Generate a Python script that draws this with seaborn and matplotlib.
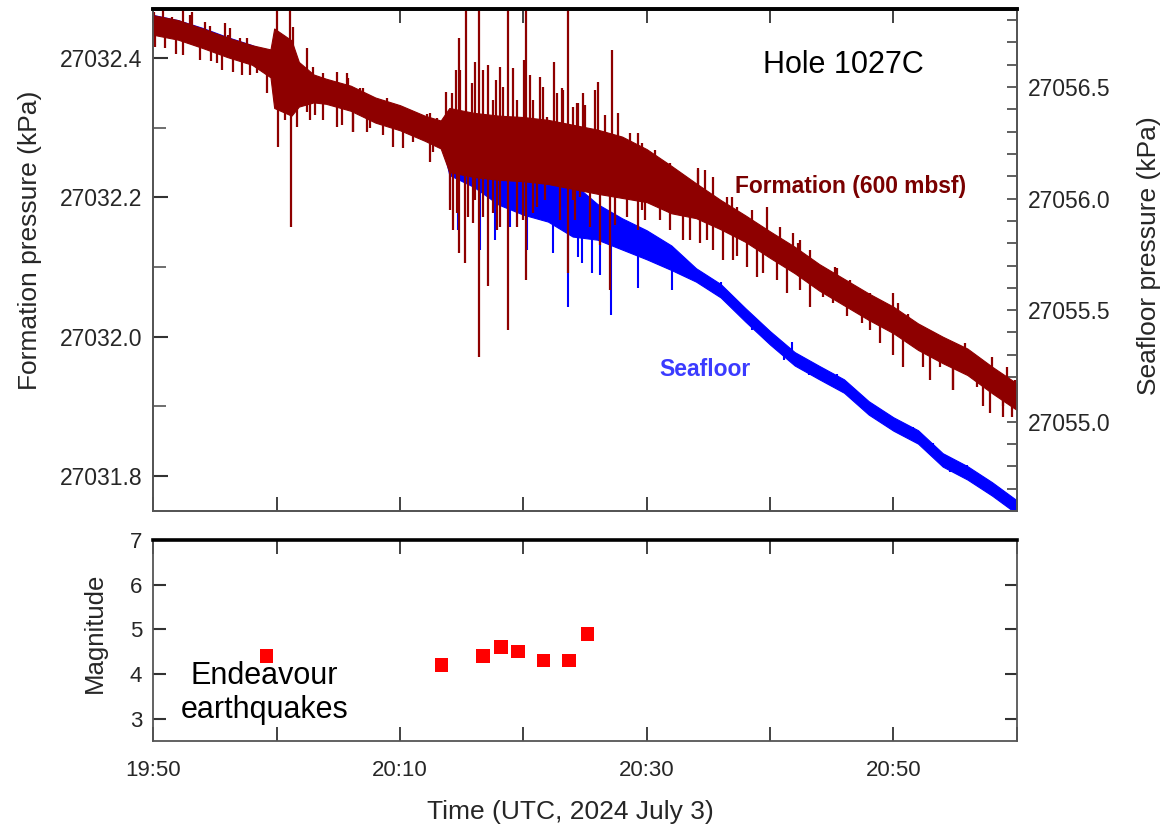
import numpy as np
import matplotlib
matplotlib.use("Agg")
import matplotlib.pyplot as plt
import seaborn as sns
from matplotlib.ticker import MultipleLocator

# ---------------- data ----------------
# reading times, minutes after 19:50 UTC
t_grid = [0, 2, 4, 6, 8, 9.5, 9.8, 11.2, 11.8, 13, 14, 16, 18, 20, 22, 23.3,
          24, 26, 28, 30, 32, 34, 36, 38, 40, 42, 44, 46, 48, 50, 52, 54, 56,
          58, 60, 62, 64, 66, 68, 70]

# formation pressure (kPa): dense core of the record
form_upper = [27032.461, 27032.454, 27032.442, 27032.429, 27032.418, 27032.412,
              27032.442, 27032.425, 27032.394, 27032.376, 27032.370, 27032.360,
              27032.343, 27032.332, 27032.317, 27032.310, 27032.328, 27032.321,
              27032.317, 27032.315, 27032.311, 27032.304, 27032.297, 27032.287,
              27032.269, 27032.245, 27032.220, 27032.196, 27032.174, 27032.151,
              27032.129, 27032.104, 27032.083, 27032.062, 27032.043, 27032.019,
              27032.000, 27031.983, 27031.957, 27031.933]
form_lower = [27032.433, 27032.426, 27032.414, 27032.401, 27032.390, 27032.372,
              27032.328, 27032.317, 27032.330, 27032.336, 27032.334, 27032.324,
              27032.307, 27032.296, 27032.281, 27032.270, 27032.236, 27032.229,
              27032.225, 27032.223, 27032.219, 27032.212, 27032.205, 27032.199,
              27032.193, 27032.177, 27032.170, 27032.154, 27032.136, 27032.113,
              27032.091, 27032.066, 27032.045, 27032.024, 27032.005, 27031.981,
              27031.962, 27031.945, 27031.919, 27031.895]

# seafloor pressure (kPa): dense core of the record
sea_upper = [27056.823, 27056.800, 27056.765, 27056.724, 27056.688, 27056.652,
             27056.640, 27056.590, 27056.558, 27056.540, 27056.527, 27056.495,
             27056.442, 27056.406, 27056.361, 27056.334, 27056.286, 27056.252,
             27056.213, 27056.168, 27056.137, 27056.070, 27055.976, 27055.912,
             27055.858, 27055.790, 27055.688, 27055.617, 27055.509, 27055.406,
             27055.312, 27055.250, 27055.190, 27055.092, 27055.020, 27054.962,
             27054.859, 27054.801, 27054.729, 27054.648]
sea_lower = [27056.763, 27056.740, 27056.705, 27056.664, 27056.628, 27056.592,
             27056.580, 27056.530, 27056.498, 27056.480, 27056.467, 27056.435,
             27056.382, 27056.346, 27056.301, 27056.274, 27056.106, 27056.052,
             27055.973, 27055.928, 27055.897, 27055.830, 27055.816, 27055.772,
             27055.728, 27055.680, 27055.628, 27055.557, 27055.449, 27055.346,
             27055.252, 27055.190, 27055.130, 27055.032, 27054.960, 27054.902,
             27054.799, 27054.741, 27054.669, 27054.588]

# spikes of the formation record reaching above the core (time, tip)
form_up_t = [0.05, 0.79, 1.49, 2.41, 2.98, 3.14, 4.19, 4.6, 5.82, 6.08, 6.22,
             7.03, 7.6, 8.65, 10.03, 11.08, 11.33, 12.44, 12.97, 13.78, 14.9,
             15.68, 15.78, 16.76, 17.03, 18.11, 18.92, 19.76, 20.68, 22.17,
             22.43, 22.98, 23.73, 24.2, 24.54, 24.79, 24.87, 25.36, 25.82,
             26.08, 26.41, 26.76, 27.14, 27.57, 27.79, 28.11, 28.38, 28.76,
             29.17, 29.46, 30.06, 30.22, 30.54, 30.81, 31.35, 31.6, 31.9,
             32.49, 32.71, 33.14, 33.24, 33.63, 34.05, 34.36, 34.46, 34.85,
             35.0, 35.8, 36.06, 36.6, 37.2, 37.69, 38.65, 39.3, 39.6, 40.68,
             41.63, 41.9, 42.44, 43.11, 44.16, 44.19, 44.73, 45.38, 46.49,
             46.9, 47.3, 48.52, 49.76, 50.81, 51.89, 52.3, 52.43, 53.25, 54.33,
             55.27, 55.41, 56.49, 58.11, 59.97, 60.41, 61.19, 61.22, 62.43,
             63.24, 64.33, 65.81, 66.38, 66.89, 67.98, 69.2, 69.4, 69.9]
form_up_v = [27032.465, 27032.47, 27032.458, 27032.468, 27032.461, 27032.465,
             27032.451, 27032.445, 27032.450, 27032.432, 27032.443, 27032.428,
             27032.428, 27032.408, 27032.47, 27032.47, 27032.444, 27032.414,
             27032.387, 27032.378, 27032.380, 27032.378, 27032.371, 27032.357,
             27032.356, 27032.339, 27032.342, 27032.329, 27032.322, 27032.320,
             27032.321, 27032.313, 27032.351, 27032.349, 27032.382, 27032.428,
             27032.382, 27032.47, 27032.364, 27032.394, 27032.47, 27032.382,
             27032.390, 27032.339, 27032.368, 27032.387, 27032.358, 27032.47,
             27032.385, 27032.339, 27032.397, 27032.47, 27032.375, 27032.339,
             27032.372, 27032.358, 27032.315, 27032.394, 27032.349, 27032.357,
             27032.354, 27032.47, 27032.329, 27032.335, 27032.335, 27032.349,
             27032.332, 27032.354, 27032.365, 27032.318, 27032.411, 27032.321,
             27032.292, 27032.292, 27032.278, 27032.268, 27032.249, 27032.249,
             27032.236, 27032.225, 27032.239, 27032.242, 27032.239, 27032.229,
             27032.200, 27032.200, 27032.186, 27032.182, 27032.186, 27032.158,
             27032.149, 27032.135, 27032.139, 27032.125, 27032.100, 27032.100,
             27032.099, 27032.082, 27032.063, 27032.063, 27032.049, 27032.029,
             27032.032, 27032.014, 27032.006, 27031.986, 27031.991, 27031.977,
             27031.967, 27031.971, 27031.957, 27031.938, 27031.938]

# spikes of the formation record reaching below the core (time, tip)
form_dn_t = [0.14, 0.95, 1.8, 2.41, 3.79, 4.7, 5.14, 5.57, 6.46, 7.17, 7.84,
             8.38, 9.22, 10.11, 10.68, 11.16, 11.65, 12.5, 12.7, 13.11, 13.76,
             14.89, 15.3, 16.19, 16.22, 17.32, 17.57, 18.65, 19.43, 20.27,
             21.08, 22.43, 22.7, 24.06, 24.33, 24.6, 24.79, 25.27, 25.54,
             25.92, 26.08, 26.41, 26.76, 27.14, 27.57, 27.84, 28.11, 28.76,
             29.46, 30.0, 30.22, 30.81, 31.13, 31.76, 32.97, 32.99, 33.63,
             34.05, 34.2, 34.6, 35.41, 36.2, 37.03, 37.4, 38.38, 39.3, 39.6,
             39.86, 41.08, 41.9, 42.97, 43.51, 44.33, 44.89, 45.41, 46.22,
             47.0, 47.3, 48.11, 48.95, 49.46, 50.55, 51.36, 52.44, 53.25,
             54.33, 55.14, 56.26, 57.44, 58.11, 58.94, 60.0, 60.8, 62.43,
             62.98, 63.79, 64.84, 64.87, 66.76, 67.27, 67.84, 68.89, 68.92,
             69.6]
form_dn_v = [27032.415, 27032.414, 27032.405, 27032.404, 27032.397, 27032.395,
             27032.392, 27032.382, 27032.380, 27032.375, 27032.375, 27032.378,
             27032.349, 27032.272, 27032.311, 27032.157, 27032.301, 27032.322,
             27032.311, 27032.318, 27032.311, 27032.301, 27032.303, 27032.294,
             27032.293, 27032.294, 27032.299, 27032.289, 27032.272, 27032.270,
             27032.279, 27032.251, 27032.265, 27032.182, 27032.153, 27032.177,
             27032.120, 27032.106, 27032.172, 27032.163, 27032.196, 27031.971,
             27032.172, 27032.072, 27032.177, 27032.153, 27032.157, 27032.010,
             27032.157, 27032.167, 27032.082, 27032.177, 27032.186, 27032.196,
             27032.167, 27032.215, 27032.092, 27032.196, 27032.167, 27032.200,
             27032.157, 27032.132, 27032.067, 27032.160, 27032.172, 27032.153,
             27032.182, 27032.168, 27032.168, 27032.153, 27032.139, 27032.139,
             27032.135, 27032.139, 27032.125, 27032.110, 27032.110, 27032.115,
             27032.100, 27032.086, 27032.092, 27032.082, 27032.063, 27032.067,
             27032.043, 27032.057, 27032.049, 27032.029, 27032.020, 27032.010,
             27031.991, 27031.974, 27031.957, 27031.956, 27031.938, 27031.957,
             27031.924, 27031.924, 27031.928, 27031.900, 27031.891, 27031.885,
             27031.900, 27031.885]

# spikes of the seafloor record (time, tip)
sea_spike_t = [24.06, 24.7, 26.49, 27.71, 28.92, 30.3, 32.41, 33.63, 34.4,
               34.76, 35.6, 36.22, 37.11, 39.3, 42.06, 46.0, 48.5, 51.1, 51.76,
               53.2, 55.4, 61.62, 63.24, 64.6, 66.0, 67.6]
sea_spike_v = [27055.995, 27055.860, 27055.770, 27055.815, 27055.874, 27055.770,
               27055.757, 27055.515, 27055.739, 27055.712, 27055.667, 27055.659,
               27055.479, 27055.600, 27055.591, 27055.627, 27055.413, 27055.277,
               27055.358, 27055.210, 27055.213, 27054.977, 27054.905, 27054.774,
               27054.806, 27054.743]

# Endeavour earthquakes
eq_time = [9.19, 23.36, 26.72, 28.17, 29.56, 31.62, 33.69, 35.19]
eq_mag = [4.4, 4.2, 4.4, 4.6, 4.5, 4.3, 4.3, 4.9]

# ticks
x_ticks = [0, 10, 20, 30, 40, 50, 60, 70]
x_tick_labels = ["19:50", "", "20:10", "", "20:30", "", "20:50", ""]
form_ticks = [27031.8, 27032.0, 27032.2, 27032.4]
form_tick_labels = ["27031.8", "27032.0", "27032.2", "27032.4"]
sea_ticks = [27055.0, 27055.5, 27056.0, 27056.5]
sea_tick_labels = ["27055.0", "27055.5", "27056.0", "27056.5"]
mag_ticks = [3, 4, 5, 6, 7]
mag_tick_labels = ["3", "4", "5", "6", "7"]

# ---------------- styling ----------------
sns.set_theme(style="ticks")
plt.rcParams["font.family"] = ["Liberation Sans", "DejaVu Sans"]

RED = "#8E0000"
BLUE = "#0000FF"
SPINE = "#555555"

fig = plt.figure(figsize=(11.65, 8.31), dpi=100)
ax = fig.add_axes([0.1316, 0.3851, 0.7411, 0.6041])
axs = ax.twinx()
ax.set_zorder(axs.get_zorder() + 1)
ax.patch.set_visible(False)
ax2 = fig.add_axes([0.1316, 0.1083, 0.7411, 0.2419])

tg = np.array(t_grid)

# seafloor (blue) on the right axis
su, sl = np.array(sea_upper), np.array(sea_lower)
sc = (su + sl) / 2
axs.fill_between(tg, sl, su, color=BLUE, lw=0.8)
sns.lineplot(x=tg, y=sc, ax=axs, color=BLUE, lw=1.0, sort=False, estimator=None)
axs.vlines(sea_spike_t, np.interp(sea_spike_t, tg, sc), sea_spike_v,
           color=BLUE, lw=1.5)

# formation (red) on the left axis
fu, fl = np.array(form_upper), np.array(form_lower)
fc = (fu + fl) / 2
ax.fill_between(tg, fl, fu, color=RED, lw=0.8)
sns.lineplot(x=tg, y=fc, ax=ax, color=RED, lw=1.0, sort=False, estimator=None)
ax.vlines(form_up_t, np.interp(form_up_t, tg, fc), form_up_v, color=RED, lw=1.6)
ax.vlines(form_dn_t, np.interp(form_dn_t, tg, fc), form_dn_v, color=RED, lw=1.6)

ax.set_xlim(0, 70)
ax.set_ylim(27031.75, 27032.47)
axs.set_ylim(27054.60, 27056.85)

ax.set_xticks(x_ticks)
ax.set_xticklabels([])
ax.set_yticks(form_ticks, labels=form_tick_labels)
ax.yaxis.set_minor_locator(MultipleLocator(0.1))
axs.set_yticks(sea_ticks, labels=sea_tick_labels)
axs.yaxis.set_minor_locator(MultipleLocator(0.1))

ax.tick_params(axis="x", which="both", direction="in", top=True, bottom=True,
               length=10, width=1.3, color="#333333", labelbottom=False)
ax.tick_params(axis="y", which="major", direction="in", left=True, right=False,
               length=11, width=1.5, color="#333333", labelsize=16.5, pad=8)
ax.tick_params(axis="y", which="minor", direction="in", left=True, right=False,
               length=9, width=1.2, color="#555555")
axs.tick_params(axis="y", which="both", direction="in", right=True, left=False,
                length=7, width=1.2, color="#444444", labelsize=16.5, pad=8)
axs.tick_params(axis="x", which="both", top=False, bottom=False)

ax.set_ylabel("Formation pressure (kPa)", fontsize=19)
ax.yaxis.set_label_coords(-0.129, 0.54)
axs.set_ylabel("Seafloor pressure (kPa)", fontsize=19, rotation=90)
axs.yaxis.set_label_coords(1.139, 0.508)
ax.set_xlabel("")

ax.text(0.799, 0.888, "Hole 1027C", transform=ax.transAxes, fontsize=22,
        ha="center", va="center", color="black")
ax.text(0.807, 0.647, "Formation (600 mbsf)", transform=ax.transAxes,
        fontsize=16.4, fontweight="bold", ha="center", va="center",
        color="#7A0000")
ax.text(0.639, 0.281, "Seafloor", transform=ax.transAxes, fontsize=16.5,
        fontweight="bold", ha="center", va="center", color="#3B3BFF")

for a in (ax, axs):
    for side in ("left", "right", "bottom"):
        a.spines[side].set_color(SPINE)
        a.spines[side].set_linewidth(1.3)
    a.spines["top"].set_color("black")
    a.spines["top"].set_linewidth(2.6)

# ---------------- earthquake panel ----------------
sns.scatterplot(x=eq_time, y=eq_mag, ax=ax2, marker="s", s=95,
                color="#FF0000", edgecolor="none", linewidth=0, legend=False)
ax2.set_xlim(0, 70)
ax2.set_ylim(2.5, 7)
ax2.set_xticks(x_ticks, labels=x_tick_labels)
ax2.set_yticks(mag_ticks, labels=mag_tick_labels)
ax2.tick_params(axis="x", which="both", direction="in", top=True, bottom=True,
                length=10, width=1.3, color="#333333", labelsize=16, pad=14)
ax2.tick_params(axis="y", which="both", direction="in", left=True, right=True,
                length=9, width=1.5, color="#333333", labelsize=16, pad=8)
for side in ("left", "right", "bottom"):
    ax2.spines[side].set_color(SPINE)
    ax2.spines[side].set_linewidth(1.3)
ax2.spines["top"].set_color("black")
ax2.spines["top"].set_linewidth(2.6)

ax2.set_ylabel("Magnitude", fontsize=18.5)
ax2.yaxis.set_label_coords(-0.0536, 0.54)
ax2.set_xlabel("Time (UTC, 2024 July 3)", fontsize=19)
ax2.xaxis.set_label_coords(0.483, -0.294)

ax2.text(0.129, 0.239, "Endeavour\nearthquakes", transform=ax2.transAxes,
         fontsize=22, ha="center", va="center", linespacing=1.15,
         color="black")

fig.savefig("out.png", dpi=100)
